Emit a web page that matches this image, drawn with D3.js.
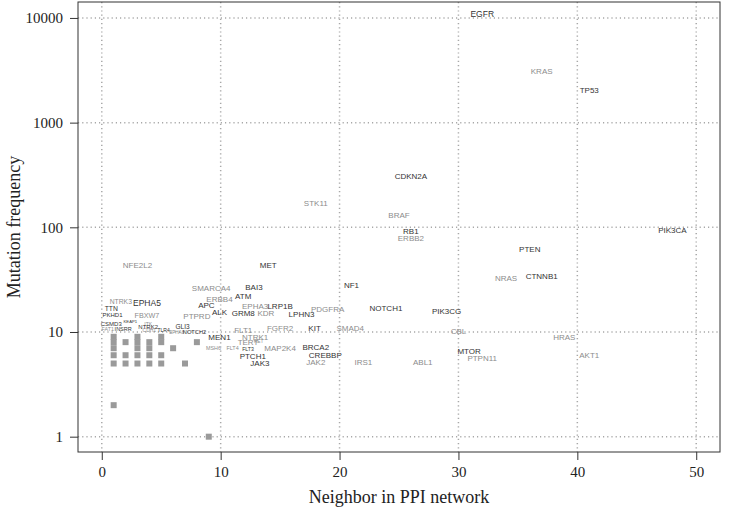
<!DOCTYPE html>
<html lang="en">
<head>
    <meta charset="UTF-8">
    <title>Mutation frequency vs PPI neighbors</title>
    <script src="https://d3js.org/d3.v7.min.js"></script>
    <style>
        body { margin: 0; background: #fff; }
        .lbl { font-family: "Liberation Sans", Arial, sans-serif; }
        .axis text { font-family: "Liberation Serif", "Times New Roman", serif; font-size: 15px; fill: #222; }
        .title { font-family: "Liberation Serif", "Times New Roman", serif; font-size: 18px; fill: #222; }
    </style>
</head>
<body>
    <div id="chart"></div>

    <script>
        // Gene labels: name, neighbors in PPI network, mutation frequency, group
        const genes = ["EGFR","KRAS","TP53","CDKN2A","STK11","BRAF","RB1","ERBB2","PIK3CA","PTEN",
            "NRAS","CTNNB1","NF1","MET","NFE2L2","SMARCA4","BAI3","ATM","ERBB4","APC",
            "ALK","GRM8","EPHA3","KDR","LRP1B","LPHN3","PDGFRA","NOTCH1","PIK3CG","KIT",
            "SMAD4","FGFR2","FLT1","CBL","HRAS","AKT1","MTOR","PTPN11","ABL1","IRS1",
            "JAK2","CREBBP","BRCA2","JAK3","PTCH1","MAP2K4","FLT3","TERT","RET","NTRK1",
            "MEN1","MSH6","FLT4","PTPRD","TTN","NTRK3","EPHA5","PKHD1","FBXW7","CSMD3",
            "KEAP1","ITK","NTRK2","FAT1","INSRR","CDH1","TLR4","GLI3","EPHA8","NOTCH2"];
        const neighbors = [32,37,41,26,18,25,26,26,48,36,
            34,37,21,14,3,9.2,12.8,11.9,9.9,8.8,
            9.9,11.9,12.9,13.8,15,16.8,19,23.9,29,17.9,
            20.9,15,11.9,30,38.9,41,30.9,32,27,22,
            18,18.8,18,13.3,12.7,15,12.3,12.3,13.2,12.9,
            9.9,9.4,11,8,0.8,1.6,3.8,0.9,3.8,0.8,
            2.4,3.9,3.9,0.5,1.8,4,5.2,6.8,6.3,7.8];
        const freqs = [10900,3100,2040,308,170,131,92,79,94,62,
            33,34,28,44,44,26,27,22,20.5,18,
            15.4,15.2,17.7,15.2,17.7,14.8,16.5,16.9,16,11,
            11,10.9,10.5,10.1,9,6,6.5,5.6,5.1,5.1,
            5.1,6,7.1,5.05,5.9,7,6.9,8,8.2,9,
            9,7,7,14.2,16.9,19.5,19.1,14.5,14.5,11.9,
            12.5,11.9,11.2,10.7,10.7,10.3,10.5,11.2,10,10];
        const groups = ["d","g","d","d","g","g","d","g","d","d",
            "g","d","d","d","g","g","d","d","g","d",
            "d","d","g","g","d","d","g","d","d","d",
            "g","g","g","g","g","g","d","g","g","g",
            "g","d","d","d","d","g","d","g","g","g",
            "d","g","g","g","d","g","d","d","g","d",
            "d","g","d","g","d","g","d","d","g","d"];

        // Genes drawn as squares (low frequency)
        const squareX = [1,1,1,1,1,1, 2,2,2, 3,3,3,3,3, 4,4,4,4, 5,5,5,5, 6, 7, 8, 9];
        const squareY = [2,5,6,7,8,9, 5,6,8, 5,6,7,8,9, 5,6,7,8, 5,6,8,9, 7, 5, 8, 1];

        const xTicks = [0, 10, 20, 30, 40, 50];
        const yTicks = [1, 10, 100, 1000, 10000];

        // Label sizes (px), default 8
        const labelSize = {
            EGFR: 8.5, EPHA5: 8.5, TTN: 6.8, NTRK3: 6.8, PKHD1: 6, FBXW7: 7.2, CSMD3: 6,
            KEAP1: 4.2, ITK: 5, NTRK2: 6, FAT1: 5.3, INSRR: 5.5, CDH1: 5, TLR4: 5,
            GLI3: 6.5, EPHA8: 4.6, NOTCH2: 5.7, MSH6: 5.4, FLT4: 5.4, FLT3: 5.2, RET: 4.8
        };
        const groupColor = { d: "#333333", g: "#8c8c8c" };

        const width = 730, height = 514;
        const plot = { left: 78, right: 720, top: 2, bottom: 452 };

        const svg = d3.select("#chart")
            .append("svg")
            .attr("width", width)
            .attr("height", height);

        const x = d3.scaleLinear()
            .domain([-2, 52])
            .range([plot.left, plot.right]);

        const y = d3.scaleLog()
            .domain([0.714, 14200])
            .range([plot.bottom, plot.top]);

        // Dotted grid
        const grid = svg.append("g")
            .attr("stroke", "#a8a8a8")
            .attr("stroke-width", 1.5)
            .attr("stroke-dasharray", "1.2,3");
        grid.selectAll(".v")
            .data(xTicks)
            .join("line")
            .attr("x1", d => x(d)).attr("x2", d => x(d))
            .attr("y1", plot.top).attr("y2", plot.bottom);
        grid.selectAll(".h")
            .data(yTicks)
            .join("line")
            .attr("class", "h")
            .attr("y1", d => y(d)).attr("y2", d => y(d))
            .attr("x1", plot.left).attr("x2", plot.right);

        // Squares
        svg.append("g")
            .selectAll("rect")
            .data(squareX.map((v, i) => [v, squareY[i]]))
            .join("rect")
            .attr("x", d => x(d[0]) - 3)
            .attr("y", d => y(d[1]) - 3)
            .attr("width", 6)
            .attr("height", 6)
            .attr("fill", "#9a9a9a");

        // Gene labels
        svg.append("g")
            .selectAll("text")
            .data(genes.map((g, i) => ({ name: g, n: neighbors[i], f: freqs[i], grp: groups[i] })))
            .join("text")
            .attr("class", "lbl")
            .attr("x", d => x(d.n))
            .attr("y", d => y(d.f))
            .attr("dy", "0.36em")
            .attr("text-anchor", "middle")
            .attr("font-size", d => (labelSize[d.name] || 8) + "px")
            .attr("fill", d => groupColor[d.grp])
            .text(d => d.name);

        // Axes
        svg.append("g")
            .attr("class", "axis")
            .attr("transform", `translate(0,${plot.bottom})`)
            .call(d3.axisBottom(x).tickValues(xTicks).tickSize(8).tickPadding(6).tickFormat(d3.format("d")))
            .call(g => g.select(".domain").remove())
            .call(g => g.selectAll("line").attr("stroke", "#333"));

        svg.append("g")
            .attr("class", "axis")
            .attr("transform", `translate(${plot.left},0)`)
            .call(d3.axisLeft(y).tickValues(yTicks).tickSize(8).tickPadding(7).tickFormat(d3.format("d")))
            .call(g => g.select(".domain").remove())
            .call(g => g.selectAll("line").attr("stroke", "#333"));

        // Box
        svg.append("rect")
            .attr("x", plot.left)
            .attr("y", plot.top)
            .attr("width", plot.right - plot.left)
            .attr("height", plot.bottom - plot.top)
            .attr("fill", "none")
            .attr("stroke", "#333")
            .attr("stroke-width", 1);

        // Axis titles
        svg.append("text")
            .attr("class", "title")
            .attr("x", (plot.left + plot.right) / 2)
            .attr("y", 503)
            .attr("text-anchor", "middle")
            .text("Neighbor in PPI network");

        svg.append("text")
            .attr("class", "title")
            .attr("transform", `translate(20,${(plot.top + plot.bottom) / 2}) rotate(-90)`)
            .attr("text-anchor", "middle")
            .text("Mutation frequency");
    </script>
</body>
</html>
